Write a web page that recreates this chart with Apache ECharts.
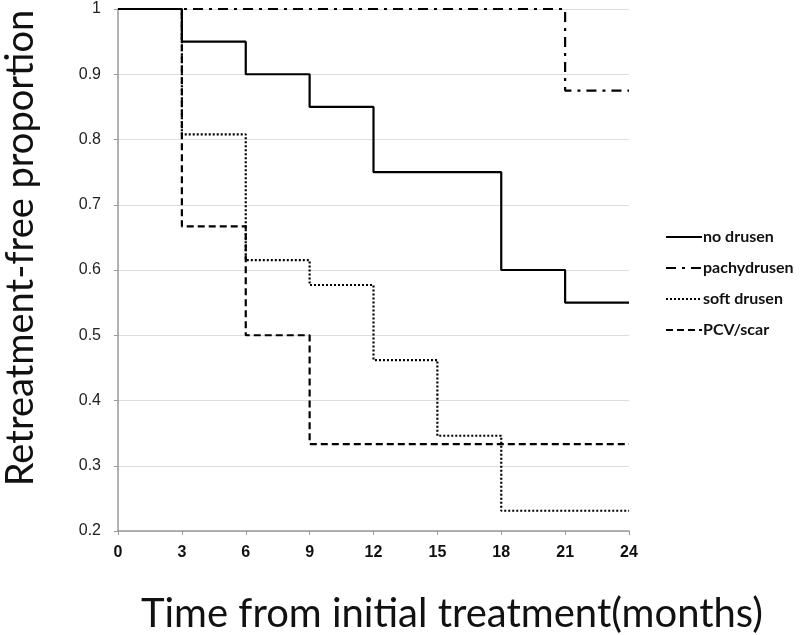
<!DOCTYPE html>
<html><head><meta charset="utf-8">
<script src="https://cdn.jsdelivr.net/npm/echarts@6/dist/echarts.min.js"></script>
<style>html,body{margin:0;padding:0;background:#fff}#c{width:800px;height:635px}</style>
</head><body><div id="c"></div>
<script>
const xTicks = [0,3,6,9,12,15,18,21,24];
const seriesNames = ['no drusen','pachydrusen','soft drusen','PCV/scar'];
const noDrusen = [[0,1],[3,0.95],[6,0.9],[9,0.85],[12,0.75],[18,0.6],[21,0.55],[24,0.55]];
const pachydrusen = [[0,1],[21,0.875],[24,0.875]];
const softDrusen = [[0,1],[3,0.808],[6,0.615],[9,0.577],[12,0.462],[15,0.346],[18,0.231],[24,0.231]];
const pcvScar = [[0,1],[3,0.667],[6,0.5],[9,0.333],[24,0.333]];
const xTitle = 'Time from initial treatment(months)';
const yTitle = 'Retreatment-free proportion';

const font = 'Lato, sans-serif';
const tickFont = 'Liberation Sans';
const styles = [
  {type:'solid', width:2.2},
  {type:[10,6,3,6], width:2.2},
  {type:[2,2], width:2.2},
  {type:[7,4], width:2.2}
];
const datas = [noDrusen, pachydrusen, softDrusen, pcvScar];
const chart = echarts.init(document.getElementById('c'));
chart.setOption({
  animation:false,
  backgroundColor:'#fff',
  grid:{left:118,right:171,top:9,bottom:104,containLabel:false,outerBoundsMode:'none'},
  legend:{
    orient:'vertical', left:660, top:224, itemGap:15, itemWidth:36, itemHeight:14,
    data:seriesNames,
    itemStyle:{color:'transparent',borderWidth:0,opacity:0},
    textStyle:{fontFamily:font,fontSize:16,fontWeight:'bold',color:'#111',padding:[0,0,0,-4]}
  },
  graphic:[
    {type:'text', x:452, y:614, style:{text:xTitle, fontFamily:font, fontSize:40, fill:'#111',
      x:0, y:0, align:'center', verticalAlign:'middle'}},
    {type:'text', rotation:Math.PI/2, x:21, y:248, style:{text:yTitle, fontFamily:font, fontSize:38, fill:'#111',
      x:0, y:0, align:'center', verticalAlign:'middle'}}
  ],
  xAxis:{
    type:'value', min:0, max:24, interval:3,
    axisLine:{lineStyle:{color:'#999',width:1.5}},
    axisTick:{show:true,length:4,lineStyle:{color:'#999'}},
    axisLabel:{show:true,fontFamily:tickFont,fontSize:16,fontWeight:'bold',color:'#111',margin:14},
    splitLine:{show:false}
  },
  yAxis:{
    type:'value', min:0.2, max:1, interval:0.1,
    axisLine:{show:true,lineStyle:{color:'#999',width:1.5}},
    axisTick:{show:true,length:4,lineStyle:{color:'#999'}},
    axisLabel:{show:true,fontFamily:tickFont,fontSize:16,color:'#222',margin:17,
      formatter:v=>String(Math.round(v*10)/10)},
    splitLine:{show:true,lineStyle:{color:'#ddd',width:1}}
  },
  series: seriesNames.map((n,i)=>({
    name:n, type:'line', step:'end', symbol:'none', data:datas[i],
    lineStyle:{color:'#000', width:styles[i].width, type:styles[i].type},
    itemStyle:{color:'#000'}, z: 10-i
  }))
});
</script></body></html>
